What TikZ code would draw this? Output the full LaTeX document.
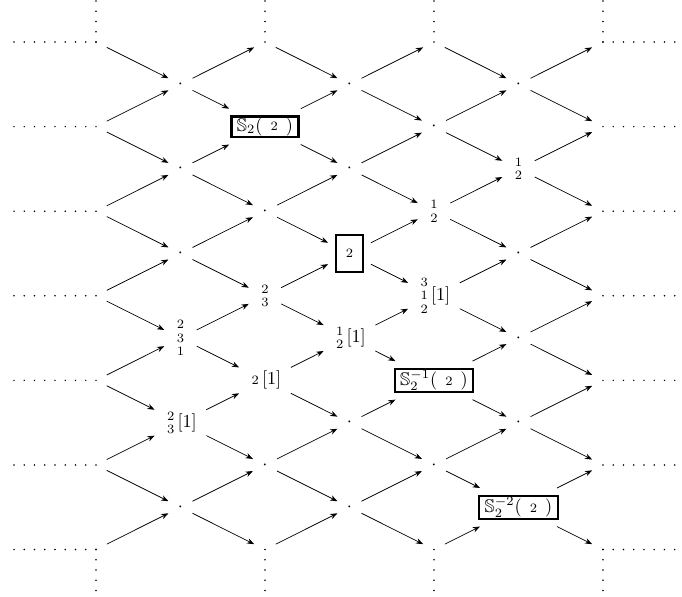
\documentclass[tikz,border=0pt]{standalone}
\usepackage{amsmath,amssymb}
\usetikzlibrary{arrows.meta}
\newcommand{\stk}[1]{\begin{smallmatrix}#1\end{smallmatrix}}
\tikzset{
  vertex/.style={inner xsep=5pt,inner ysep=3pt,minimum width=0.4cm,minimum height=0.3cm},
  boxnode/.style={vertex,draw,very thick,inner xsep=3pt,inner ysep=0.5pt,outer sep=4.3pt},
  arrow/.style={-{Stealth[length=4pt,width=3pt]},thin},
  dotline/.style={line width=0.9pt,line cap=round,dash pattern=on 0pt off 5.6pt}
}

\begin{document}
\begin{tikzpicture}[x=1.623cm,y=-0.8124cm]
\useasboundingbox (-1.136,-0.993) rectangle (6.935,13.1);
% left and right ends of the mesh
\foreach \j in {0,2,...,12}{
  \node[vertex] (v-0-\j) at (0,\j) {};
  \node[vertex] (v-6-\j) at (6,\j) {};
  \draw[dotline] (v-0-\j.center) -- ++(-1,0);
  \draw[dotline] (v-6-\j.center) -- ++(1,0);
}
% top and bottom ends
\foreach \i in {2,4}{
  \node[vertex] (v-\i-0) at (\i,0) {};
  \node[vertex] (v-\i-12) at (\i,12) {};
}
\foreach \i in {0,2,4,6}{
  \draw[dotline] (v-\i-0.center) -- ++(0,-1);
  \draw[dotline] (v-\i-12.center) -- ++(0,1);
}

% plain vertices
\foreach \i/\j in {1/1,3/1,5/1,4/2,1/3,3/3,2/4,1/5,5/5,5/7,3/9,5/9,2/10,4/10,1/11,3/11}
  \node[vertex] (v-\i-\j) at (\i,\j) {$\cdot$};

% labelled vertices
\node[boxnode] (v-2-2) at (2,2) {$\mathbb{S}_2(\;\stk{2}\;)$};
\node[vertex] (v-5-3) at (5,3) {$\stk{1\\[1.3pt]2}$};
\node[vertex] (v-4-4) at (4,4) {$\stk{1\\[1.3pt]2}$};
\node[boxnode,minimum width=14.8pt,minimum height=19.8pt] (v-3-5) at (3,5) {$\stk{2}$};
\node[vertex] (v-2-6) at (2,6) {$\stk{2\\[1.3pt]3}$};
\node[vertex] (v-4-6) at (4,6) {$\stk{3\\[1.3pt]1\\[1.3pt]2}[1]$};
\node[vertex] (v-1-7) at (1,7) {$\stk{2\\[1.3pt]3\\[1.3pt]1}$};
\node[vertex] (v-3-7) at (3,7) {$\stk{1\\[1.3pt]2}[1]$};
\node[vertex] (v-2-8) at (2,8) {$\stk{2}[1]$};
\node[boxnode] (v-4-8) at (4,8) {$\mathbb{S}_2^{-1}(\;\stk{2}\;)$};
\node[vertex] (v-1-9) at (1,9) {$\stk{2\\[1.3pt]3}[1]$};
\node[boxnode] (v-5-11) at (5,11) {$\mathbb{S}_2^{-2}(\;\stk{2}\;)$};

% arrows of the mesh
\foreach \i in {0,...,5}{
  \foreach \j in {0,...,12}{
    \pgfmathtruncatemacro\inext{\i+1}
    \pgfmathtruncatemacro\jup{\j-1}
    \pgfmathtruncatemacro\jdn{\j+1}
    \ifodd\numexpr\i+\j\relax\else
      \ifnum\j>0 \draw[arrow] (v-\i-\j) -- (v-\inext-\jup);\fi
      \ifnum\j<12 \draw[arrow] (v-\i-\j) -- (v-\inext-\jdn);\fi
    \fi
  }
}
\end{tikzpicture}
\end{document}
